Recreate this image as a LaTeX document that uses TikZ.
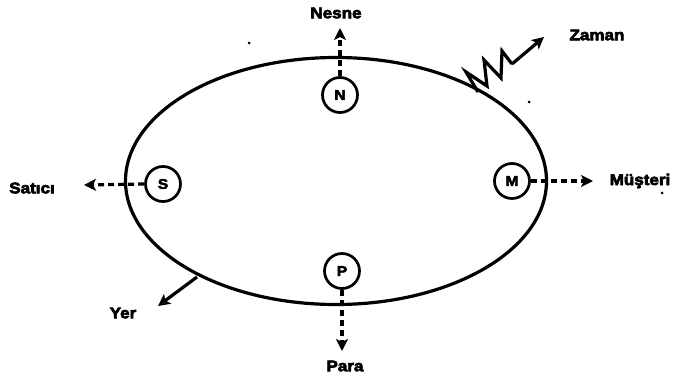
\documentclass[tikz,border=0pt]{standalone}
\usepackage{fontspec}
\newfontfamily\lbl{Liberation Sans}[FakeStretch=1.1,FakeBold=4]
\usetikzlibrary{arrows.meta}
\begin{document}
\begin{tikzpicture}[x=1pt,y=-1pt,
  heavy/.style={line width=3.2pt},
  dsh/.style={heavy,dash pattern=on 6pt off 4pt},
  tip/.style={-{Stealth[length=12pt,width=12pt,inset=3pt]}},
  lab/.style={font=\lbl\bfseries\fontsize{15.5}{16}\selectfont,inner sep=0pt},
  pt/.style={circle,draw,line width=2.7pt,minimum size=35pt,inner sep=0pt,font=\lbl\bfseries\fontsize{14}{14}\selectfont}]
\useasboundingbox (0,0) rectangle (678,375);
\draw[heavy] (336,181) ellipse [x radius=210.5, y radius=123.5];
\node[pt] (N) at (340,95) {N};
\node[pt] (S) at (163,184) {S};
\node[pt] (M) at (512,181) {M};
\node[pt] (P) at (342,271) {P};
\node[lab] (nesne) at (336,13) {Nesne};
\node[lab] (zaman) at (597,35) {Zaman};
\node[lab] (satici) at (32,188) {Satıcı};
\node[lab] (musteri) at (640,181) {Müşteri};
\node[lab] (para) at (345,366) {Para};
\node[lab] (yer) at (123,313) {Yer};
\coordinate (nt) at (340,28);
\coordinate (st) at (84,185);
\coordinate (mt) at (593,181);
\coordinate (ptp) at (342,351);
\coordinate (ys) at (197,277);
\coordinate (yt) at (158,306);
\coordinate (zs) at (478,92);
\coordinate (ze) at (512,64);
\coordinate (zt) at (544,37);
\draw[dsh,tip] (N.north) -- (nt);
\draw[dsh,tip] (S.west) -- (st);
\draw[dsh,tip] (M.east) -- (mt);
\draw[dsh,tip] (P.south) -- (ptp);
\draw[heavy,tip] (ys) -- (yt);
\draw[heavy,line join=miter] (zs) -- (466,72) -- (487,86) -- (484,60) -- (501,78) -- (502,51) -- (ze);
\draw[heavy,tip] (ze) -- (zt);
\fill (249,43) circle (1.5);
\fill (529,102) circle (1.5);
\fill (662,193) circle (1.5);
\end{tikzpicture}
\end{document}
